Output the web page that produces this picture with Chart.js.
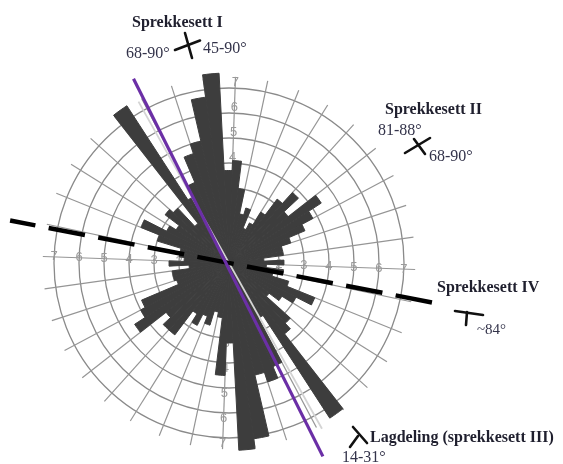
<!DOCTYPE html>
<html>
<head>
<meta charset="utf-8">
<script src="https://cdn.jsdelivr.net/npm/chart.js@4.4.0/dist/chart.umd.min.js"></script>
<style>
  html, body { margin: 0; padding: 0; background: #fff; }
  #wrap { width: 563px; height: 464px; }
</style>
</head>
<body>
<div id="wrap"><canvas id="rose"></canvas></div>
<script>
// 5° bins, clockwise from north
const binStarts = [
  0, 5, 10, 15, 20, 25, 30, 35, 40, 45, 50, 55, 60, 65, 70, 75, 80, 85,
  90, 95, 100, 105, 110, 115, 120, 125, 130, 135, 140, 145, 150, 155, 160, 165, 170, 175,
  180, 185, 190, 195, 200, 205, 210, 215, 220, 225, 230, 235, 240, 245, 250, 255, 260, 265,
  270, 275, 280, 285, 290, 295, 300, 305, 310, 315, 320, 325, 330, 335, 340, 345, 350, 355
];
// antall sprekker per sektor (lest av figuren)
const countsNE = [4.1, 3.0, 2.0, 2.3, 1.5, 1.8, 2.4, 3.2, 3.8, 3.0, 4.4, 3.8, 3.3, 2.6, 2.2, 2.2, 1.4, 2.2];
const countsSE = [1.5, 2.2, 1.8, 2.5, 3.7, 3.0, 2.5, 2.0, 3.3, 3.6, 7.4, 2.5, 4.5, 5.0, 4.6, 7.1, 7.5, 3.2];
const countsSW = [4.5, 2.2, 2.0, 2.6, 2.3, 2.8, 2.4, 3.6, 3.6, 3.2, 4.5, 4.0, 3.8, 2.2, 2.3, 2.3, 1.6, 2.4];
const countsNW = [1.8, 2.0, 2.0, 3.0, 3.8, 2.8, 2.5, 3.2, 3.0, 2.0, 7.5, 3.0, 3.5, 4.6, 5.0, 6.7, 7.6, 3.7];
const counts = countsNE.concat(countsSE, countsSW, countsNW);

const tickValues = [1, 2, 3, 4, 5, 6, 7];
const binLabels = binStarts.map(s => s + '–' + (s + 5) + '°');

// tekst på figuren
const setNames = ['Sprekkesett I', 'Sprekkesett II', 'Sprekkesett IV', 'Lagdeling (sprekkesett III)'];
const dipTexts = ['68-90°', '45-90°', '81-88°', '68-90°', '~84°', '14-31°'];

const overlay = {
  id: 'overlay',
  beforeDatasetsDraw(chart) {
    const sc = chart.scales.r, ctx = chart.ctx;
    const rot = sc.options.startAngle;
    const pos = (deg, v) => {
      const a = (deg + rot - 90) * Math.PI / 180;
      const d = sc.getDistanceFromCenterForValue(v);
      return [sc.xCenter + d * Math.cos(a), sc.yCenter + d * Math.sin(a)];
    };
    ctx.save();
    // eiker hver 10°
    ctx.strokeStyle = '#959595';
    ctx.lineWidth = 1.2;
    for (let deg = 0; deg < 360; deg += 10) {
      const p0 = pos(deg, 2), p1 = pos(deg, 7.45);
      ctx.beginPath();
      ctx.moveTo(p0[0], p0[1]);
      ctx.lineTo(p1[0], p1[1]);
      ctx.stroke();
    }
    // tall langs aksene
    ctx.fillStyle = '#9a9a9a';
    ctx.font = '13px "Liberation Sans"';
    ctx.textAlign = 'center';
    ctx.textBaseline = 'middle';
    tickValues.forEach(v => {
      [0, 90, 180, 270].forEach(deg => {
        const off = (deg === 0 || deg === 180) ? 0.22 : 0;
        const p = pos(deg, v + off);
        ctx.fillText(String(v), p[0], p[1]);
      });
    });
    ctx.restore();
  },
  afterDatasetsDraw(chart) {
    const sc = chart.scales.r, ctx = chart.ctx;
    const posAbs = (deg, v) => {
      const a = (deg - 90) * Math.PI / 180;
      const d = sc.getDistanceFromCenterForValue(v);
      return [sc.xCenter + d * Math.cos(a), sc.yCenter + d * Math.sin(a)];
    };
    const seg = (p0, p1) => {
      ctx.beginPath();
      ctx.moveTo(p0[0], p0[1]);
      ctx.lineTo(p1[0], p1[1]);
      ctx.stroke();
    };
    ctx.save();
    // tynn lys linje ved lagdelingen
    ctx.strokeStyle = '#d4d4d4';
    ctx.lineWidth = 1.8;
    seg(posAbs(330.7, 7.4), posAbs(150.7, 7.6));
    // sprekkesett IV (stiplet), tegnet fra høyre ende
    ctx.strokeStyle = '#000';
    ctx.lineWidth = 4.5;
    ctx.setLineDash([37, 13.5]);
    seg(posAbs(101, 8.27), posAbs(281, 8.92));
    ctx.setLineDash([]);
    // lagdeling (lilla)
    ctx.strokeStyle = '#6b2fa6';
    ctx.lineWidth = 3.2;
    seg(posAbs(332.6, 8.3), posAbs(154.1, 8.6));

    // strøk/fall-symboler
    ctx.strokeStyle = '#111';
    ctx.lineWidth = 2.6;
    ctx.lineCap = 'round';
    seg([175, 50], [200, 40.5]);
    seg([185, 33], [192, 58]);
    seg([405, 153], [430, 138]);
    seg([414, 139], [425, 154]);
    seg([455, 311], [483, 315]);
    seg([467, 312], [466, 325]);
    seg([353, 427], [367, 443]);
    seg([358, 436], [350, 447]);

    // tekster
    ctx.textAlign = 'left';
    ctx.textBaseline = 'alphabetic';
    ctx.fillStyle = '#1f1f2e';
    ctx.font = 'bold 16px "Liberation Serif"';
    ctx.fillText(setNames[0], 132, 27);
    ctx.fillText(setNames[1], 385, 114);
    ctx.fillText(setNames[2], 437, 292);
    ctx.fillText(setNames[3], 370, 442);
    ctx.fillStyle = '#33334a';
    ctx.font = '16px "Liberation Serif"';
    ctx.fillText(dipTexts[0], 126, 58);
    ctx.fillText(dipTexts[1], 203, 53);
    ctx.fillText(dipTexts[2], 378, 135);
    ctx.fillText(dipTexts[3], 429, 161);
    ctx.font = '15px "Liberation Serif"';
    ctx.fillText(dipTexts[4], 477, 334);
    ctx.font = '16px "Liberation Serif"';
    ctx.fillText(dipTexts[5], 342, 462);
    ctx.restore();
  }
};

new Chart(document.getElementById('rose'), {
  type: 'polarArea',
  data: {
    labels: binLabels,
    datasets: [{
      label: 'Sprekker',
      data: counts,
      backgroundColor: '#3d3d3d',
      borderColor: '#3d3d3d',
      borderWidth: 1,
      clip: false
    }]
  },
  options: {
    responsive: true,
    maintainAspectRatio: false,
    animation: false,
    devicePixelRatio: 1,
    layout: { padding: { left: 54, right: 159, top: 88, bottom: 26 } },
    plugins: { legend: { display: false }, tooltip: { enabled: false } },
    scales: {
      r: {
        min: 0,
        max: 7,
        startAngle: 2,
        ticks: { display: false, stepSize: 1 },
        grid: { color: '#8a8a8a', lineWidth: 1.3, circular: true },
        angleLines: { display: false },
        pointLabels: { display: false }
      }
    }
  },
  plugins: [overlay]
});
</script>
</body>
</html>
